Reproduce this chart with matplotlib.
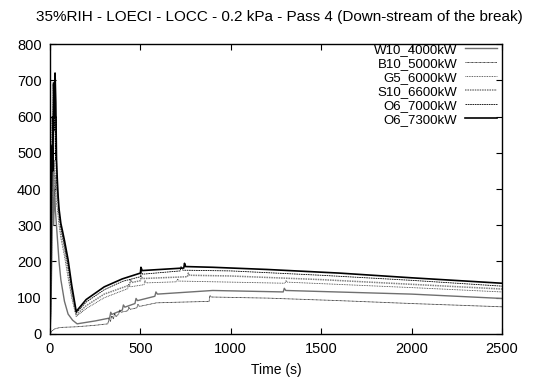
import matplotlib
matplotlib.use('Agg')
import matplotlib.pyplot as plt

plt.rcParams['font.family'] = ['Liberation Sans', 'DejaVu Sans']

title = '35%RIH - LOECI - LOCC - 0.2 kPa - Pass 4 (Down-stream of the break)'
labels = ['W10_4000kW', 'B10_5000kW', 'G5_6000kW', 'S10_6600kW', 'O6_7000kW', 'O6_7300kW']

# W10_4000kW
t_w10 = [0, 5, 10, 15, 20, 25, 30, 40, 50, 60, 80, 100, 125, 150, 250, 330, 336, 342,
         400, 406, 414, 470, 476, 484, 580, 586, 594, 900, 1290, 1296, 1304, 2000, 2500]
v_w10 = [0, 60, 220, 380, 300, 400, 340, 270, 200, 150, 90, 55, 38, 28, 36, 44, 60, 54,
         66, 80, 74, 84, 98, 92, 104, 116, 110, 120, 116, 126, 120, 110, 98]

# B10_5000kW
t_b10 = [0, 10, 30, 60, 150, 250, 320, 326, 334, 342, 350, 358, 366, 380, 386, 394,
         430, 436, 444, 480, 486, 494, 590, 880, 884, 892, 1200, 1600, 2000, 2500]
v_b10 = [0, 8, 15, 18, 20, 24, 28, 42, 35, 50, 42, 56, 48, 55, 66, 60,
         64, 74, 68, 72, 82, 76, 86, 90, 106, 102, 99, 92, 84, 75]

# G5_6000kW
t_g5 = [0, 4, 8, 12, 16, 20, 25, 30, 35, 40, 50, 60, 80, 100, 120, 145, 200, 300, 430, 435, 442,
        520, 525, 532, 700, 706, 712, 1300, 1306, 1312, 2000, 2500]
v_g5 = [0, 150, 420, 500, 380, 460, 380, 420, 360, 350, 300, 265, 215, 155, 100, 48, 70, 100, 125, 138, 130,
        136, 148, 141, 144, 152, 146, 140, 148, 143, 128, 116]

# S10_6600kW
t_s10 = [0, 5, 10, 15, 20, 25, 30, 35, 40, 50, 60, 80, 100, 120, 145, 200, 300, 440, 445, 452,
         500, 505, 512, 760, 765, 772, 1000, 1500, 2000, 2500]
v_s10 = [0, 100, 300, 450, 380, 480, 400, 440, 380, 330, 285, 235, 175, 112, 52, 78, 110, 135, 150, 142,
         147, 160, 153, 158, 168, 162, 160, 150, 137, 124]

# O6_7000kW
t_o7000 = [0, 4, 8, 12, 15, 18, 22, 26, 30, 34, 38, 44, 50, 60, 80, 100, 120, 145, 200, 300, 400,
           500, 505, 512, 720, 725, 735, 1000, 1500, 2000, 2500]
v_o7000 = [0, 200, 420, 600, 500, 695, 560, 650, 480, 600, 420, 380, 335, 295, 245, 190, 125, 58, 88, 122, 145,
           158, 172, 165, 174, 186, 176, 174, 162, 148, 132]

# O6_7300kW
t_o7300 = [0, 3, 8, 12, 16, 20, 24, 28, 32, 36, 40, 45, 50, 60, 70, 80, 100, 120, 145, 200, 300, 400,
           500, 503, 510, 740, 744, 750, 900, 1200, 1600, 2000, 2500]
v_o7300 = [0, 120, 380, 520, 450, 690, 600, 720, 640, 480, 430, 380, 345, 305, 282, 258, 205, 135, 62, 95, 130, 152,
           168, 184, 175, 182, 195, 186, 184, 178, 168, 155, 140]

series = [(t_w10, v_w10), (t_b10, v_b10), (t_g5, v_g5), (t_s10, v_s10), (t_o7000, v_o7000), (t_o7300, v_o7300)]
styles = [
    dict(color='#707070', lw=1.0, ls='-'),
    dict(color='#101010', lw=0.6, ls=(0, (1, 0.6))),
    dict(color='#303030', lw=0.6, ls=(0, (1, 1))),
    dict(color='#808080', lw=1.1, ls=(0, (1, 0.6))),
    dict(color='#000000', lw=0.6, ls=(0, (2, 0.8))),
    dict(color='black', lw=1.2, ls='-'),
]

fig = plt.figure(figsize=(5.58, 3.83), dpi=100)
ax = fig.add_axes([0.0896, 0.128, 0.81, 0.757])

for (t, v), lab, st in zip(series, labels, styles):
    ax.plot(t, v, label=lab, **st)

ax.set_xlim(0, 2500)
ax.set_ylim(0, 800)
ax.set_xticks(range(0, 2501, 500))
ax.set_yticks(range(0, 801, 100))
ax.tick_params(direction='in', top=True, right=True, length=4, labelsize=10.5, pad=6)
for s in ax.spines.values():
    s.set_linewidth(1.0)
ax.set_xlabel('Time (s)', fontsize=10, labelpad=5)
fig.suptitle(title, fontsize=11, y=0.975)

ax.legend(loc='upper right', bbox_to_anchor=(0.992, 1.006), frameon=False, markerfirst=False,
          fontsize=9.5, handlelength=2.4, labelspacing=0.13, borderaxespad=0.0,
          handletextpad=0.6, borderpad=0.1)

fig.savefig('out.png', dpi=100)
